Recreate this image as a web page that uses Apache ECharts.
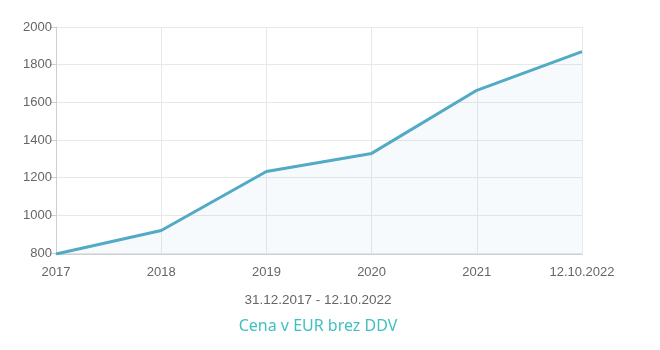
<!DOCTYPE html>
<html>
<head>
<meta charset="utf-8">
<script src="https://cdn.jsdelivr.net/npm/echarts@6/dist/echarts.min.js"></script>
<style>
  html, body { margin: 0; padding: 0; background: #fff; }
  #main { width: 660px; height: 350px; }
</style>
</head>
<body>
<div id="main"></div>
<script>
// podatki
var categories = ['2017', '2018', '2019', '2020', '2021', '12.10.2022']
var prices = [795, 920, 1233, 1329, 1664, 1869]
var yTicks = [795, 800, 1000, 1200, 1400, 1600, 1800, 2000]
var dateRange = '31.12.2017 - 12.10.2022'
var seriesName = 'Cena v EUR brez DDV'

var myChart = echarts.init(document.getElementById('main'))
var option = {
  animation: false,
  grid: { left: 56, right: 78, top: 27, bottom: 96, containLabel: false },
  xAxis: {
    type: 'category',
    data: categories,
    boundaryGap: false,
    axisLine: { lineStyle: { color: '#cfcfcf' } },
    axisTick: { show: false },
    axisLabel: { color: '#666', fontFamily: 'Liberation Sans', fontSize: 13, margin: 12, interval: 0 },
    splitLine: { show: true, lineStyle: { color: '#e8e8e8' } }
  },
  yAxis: {
    type: 'value',
    min: yTicks[0],
    max: yTicks[yTicks.length - 1],
    axisLine: { show: true, lineStyle: { color: '#cfcfcf' } },
    axisTick: { show: true, length: 6, customValues: yTicks, lineStyle: { color: '#cfcfcf' } },
    axisLabel: {
      color: '#666', fontFamily: 'Liberation Sans', fontSize: 13, margin: 4,
      customValues: yTicks, hideOverlap: false,
      formatter: function (v) { return String(v) }
    },
    splitLine: { show: true, lineStyle: { color: '#e8e8e8' } }
  },
  graphic: [
    {
      type: 'text', x: 318, y: 300,
      style: { text: dateRange, fill: '#666', font: '13.5px "Liberation Sans"', align: 'center', verticalAlign: 'middle' }
    },
    {
      type: 'text', x: 318, y: 326,
      style: { text: seriesName, fill: '#42c0c0', font: '16px "Noto Sans"', align: 'center', verticalAlign: 'middle' }
    }
  ],
  series: [
    {
      name: seriesName,
      type: 'line',
      data: prices,
      symbol: 'none',
      lineStyle: { color: '#52aac5', width: 3 },
      areaStyle: { color: 'rgba(82,170,197,0.08)' }
    }
  ]
}
myChart.setOption(option)
</script>
</body>
</html>
